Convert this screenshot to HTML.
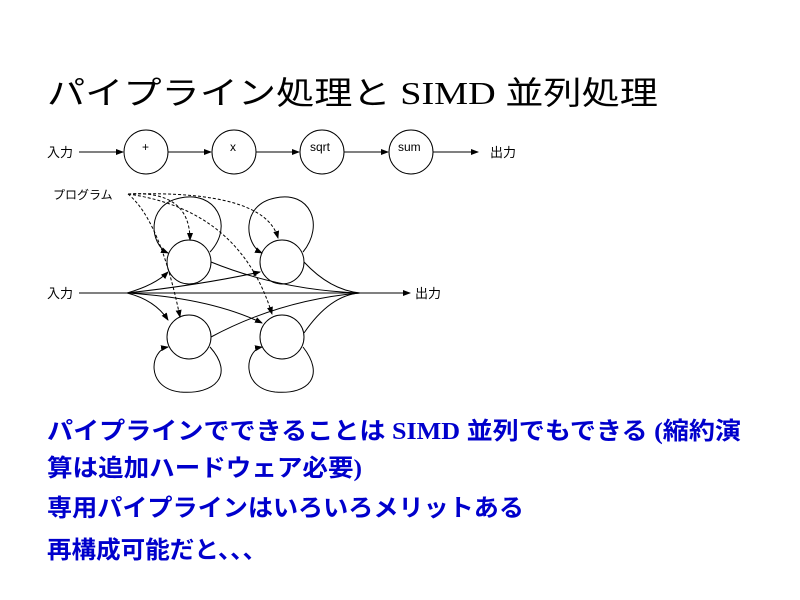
<!DOCTYPE html>
<html><head><meta charset="utf-8"><style>body{margin:0;background:#fff}svg{display:block}</style></head><body>
<svg width="800" height="600" viewBox="0 0 800 600" xmlns="http://www.w3.org/2000/svg">
<defs><marker id="a" markerWidth="8" markerHeight="6" refX="7" refY="3" orient="auto" markerUnits="userSpaceOnUse"><path d="M0,0 L8,3 L0,6z" fill="#000"/></marker></defs>
<g font-family="'Liberation Serif','Noto Sans CJK JP',serif">
<text x="47" y="104" font-size="32" textLength="611" lengthAdjust="spacingAndGlyphs">パイプライン処理と SIMD 並列処理</text>
<g fill="#0000cc" font-size="24" font-weight="bold">
<text x="47" y="439" textLength="694" lengthAdjust="spacingAndGlyphs">パイプラインでできることは SIMD 並列でもできる (縮約演</text>
<text x="47" y="476" textLength="315" lengthAdjust="spacingAndGlyphs">算は追加ハードウェア必要)</text>
<text x="47" y="516" textLength="477" lengthAdjust="spacingAndGlyphs">専用パイプラインはいろいろメリットある</text>
<text x="47" y="558" textLength="220" lengthAdjust="spacingAndGlyphs">再構成可能だと、、、</text>
</g></g>
<g font-family="'Liberation Sans','Noto Sans CJK JP',sans-serif" font-size="13">
<text x="47" y="157">入力</text><text x="490" y="157">出力</text>
<text x="142" y="151" font-size="12">+</text><text x="230" y="151" font-size="12">x</text>
<text x="310" y="151" font-size="12">sqrt</text><text x="398" y="151" font-size="12">sum</text>
<text x="53" y="199" font-size="12">プログラム</text>
<text x="47" y="298">入力</text><text x="415" y="298">出力</text>
</g>
<g fill="none" stroke="#000" stroke-width="1">
<circle cx="146" cy="152" r="22"/><circle cx="234" cy="152" r="22"/><circle cx="322" cy="152" r="22"/><circle cx="411" cy="152" r="22"/>
<path d="M79,152 H123" marker-end="url(#a)"/><path d="M168,152 H211" marker-end="url(#a)"/><path d="M256,152 H299" marker-end="url(#a)"/><path d="M344,152 H388" marker-end="url(#a)"/><path d="M433,152 H478" marker-end="url(#a)"/>
<circle cx="189" cy="262" r="22"/><circle cx="282" cy="262" r="22"/><circle cx="189" cy="337" r="22"/><circle cx="282" cy="337" r="22"/>
<path d="M79,293 H410" marker-end="url(#a)"/>
<path d="M127,293 Q155,285 168,272" marker-end="url(#a)"/>
<path d="M127,293 Q200,285 260,272" marker-end="url(#a)"/>
<path d="M127,293 Q155,300 168,320" marker-end="url(#a)"/>
<path d="M127,293 Q210,298 262,323" marker-end="url(#a)"/>
<path d="M211,262 Q280,290 360,293"/><path d="M304,262 Q330,290 360,293"/>
<path d="M211,337 Q280,300 360,293"/><path d="M304,333 Q330,295 360,293"/>
<path d="M210,252 C235,225 215,190 180,198 C145,205 150,245 168,253" marker-end="url(#a)"/>
<path d="M303,252 C325,225 310,190 275,198 C240,205 245,245 262,253" marker-end="url(#a)"/>
<path d="M210,347 C235,375 215,395 180,392 C145,388 150,350 168,347" marker-end="url(#a)"/>
<path d="M303,347 C325,375 310,395 275,392 C240,388 245,350 262,347" marker-end="url(#a)"/>
</g>
<g fill="none" stroke="#000" stroke-dasharray="3,2">
<path d="M128,194 Q190,190 190,240" marker-end="url(#a)"/>
<path d="M128,194 Q265,190 278,238" marker-end="url(#a)"/>
<path d="M128,194 Q160,220 180,317" marker-end="url(#a)"/>
<path d="M128,194 Q240,210 272,314" marker-end="url(#a)"/>
</g>
</svg>
</body></html>
